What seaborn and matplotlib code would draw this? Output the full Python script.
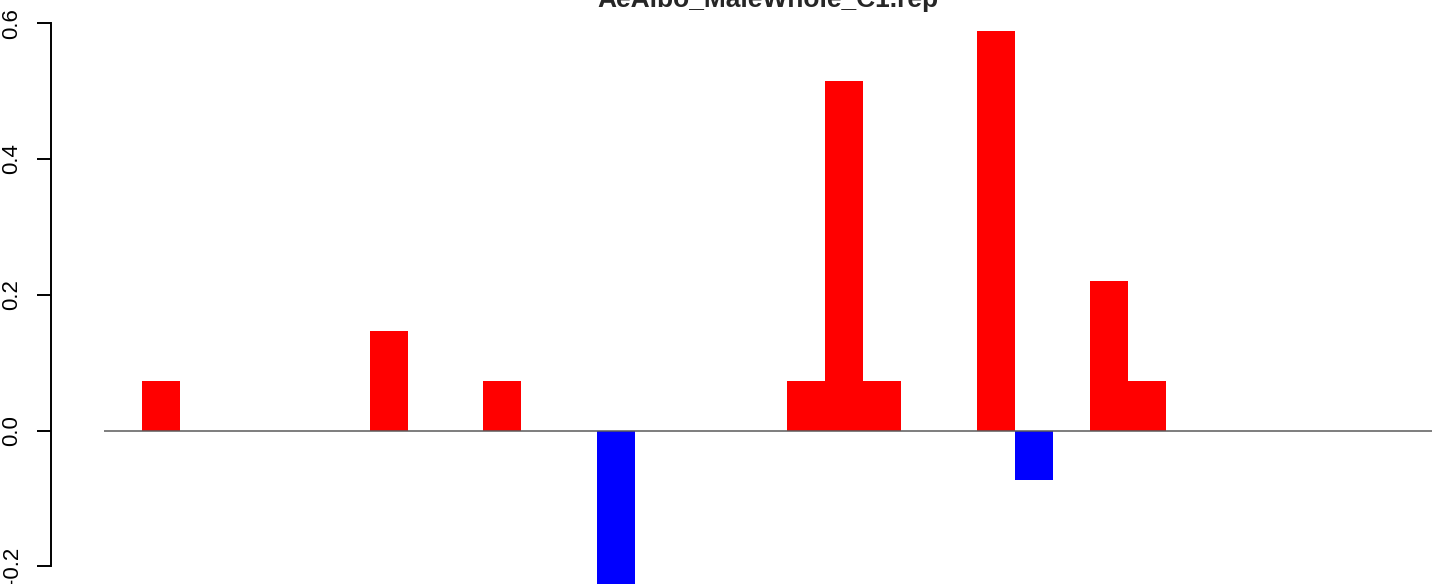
import matplotlib
matplotlib.use("Agg")
import matplotlib.pyplot as plt
import seaborn as sns
import pandas as pd

# ---- data ----
title = "AeAlbo_MaleWhole_C1.rep"
positions = list(range(35))
values = [0.0, 0.0735, 0.0, 0.0, 0.0, 0.0, 0.0, 0.147, 0.0, 0.0,
          0.0735, 0.0, 0.0, -0.294, 0.0, 0.0, 0.0, 0.0, 0.0735, 0.515,
          0.0735, 0.0, 0.0, 0.588, -0.0735, 0.0, 0.2205, 0.0735, 0.0, 0.0,
          0.0, 0.0, 0.0, 0.0, 0.0]
ytick_values = [-0.2, 0.0, 0.2, 0.4, 0.6]
ytick_labels = ["-0.2", "0.0", "0.2", "0.4", "0.6"]

df = pd.DataFrame({"pos": positions, "val": values})
df["sign"] = ["neg" if v < 0 else "pos" for v in values]

sns.set_style("white")
plt.rcParams["font.family"] = ["Liberation Sans", "DejaVu Sans"]

W, H = 1444, 584
fig = plt.figure(figsize=(W / 100, H / 100), dpi=100)
ax = fig.add_axes([51 / W, 0, 1 - 51 / W, 1])

sns.barplot(data=df, x="pos", y="val", hue="sign",
            palette={"pos": "#FF0000", "neg": "#0000FF"},
            width=1, dodge=False, legend=False, saturation=1,
            linewidth=0, edgecolor="none", ax=ax)

# baseline
ax.hlines(0, -0.5, len(values) - 0.5, color="#5a5a5a", lw=1.1, zorder=3)

bw = 37.94
ax.set_xlim(-0.5 - 53 / bw, -0.5 + (W - 104) / bw)
ppu = 678.6
ax.set_ylim(-(H - 430.5) / ppu, 430.5 / ppu)

for s in ["top", "right", "bottom"]:
    ax.spines[s].set_visible(False)
ax.spines["left"].set_bounds(-0.2, 0.6)
ax.spines["left"].set_linewidth(1.4)
ax.spines["left"].set_color("black")

ax.set_xticks([])
ax.set_xlabel("")
ax.set_ylabel("")
ax.set_yticks(ytick_values)
ax.set_yticklabels(ytick_labels, rotation=90, va="center", ha="right",
                   fontsize=16)
ax.tick_params(axis="y", which="major", direction="out", length=10,
               width=1.4, pad=10.5, colors="black", left=True)

fig.text(768 / W, 1 - 7 / H, title, ha="center", va="baseline",
         fontsize=19, fontweight="bold")

fig.savefig("out.png", dpi=100)
